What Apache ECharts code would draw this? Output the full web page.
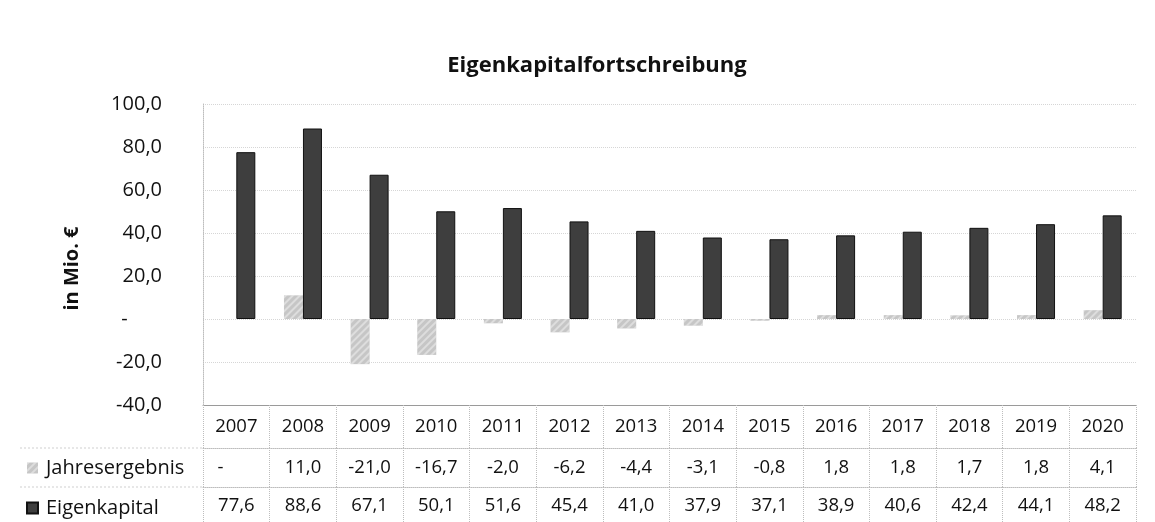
<!DOCTYPE html>
<html><head><meta charset="utf-8">
<script src="https://cdn.jsdelivr.net/npm/echarts@6/dist/echarts.min.js"></script>
<style>html,body{margin:0;padding:0;background:#fff}#c{width:1155px;height:522px}</style>
</head><body><div id="c"></div>
<script>
const years = ['2007','2008','2009','2010','2011','2012','2013','2014','2015','2016','2017','2018','2019','2020'];
const jahresergebnis = [0, 11.0, -21.0, -16.7, -2.0, -6.2, -4.4, -3.1, -0.8, 1.8, 1.8, 1.7, 1.8, 4.1];
const eigenkapital = [77.6, 88.6, 67.1, 50.1, 51.6, 45.4, 41.0, 37.9, 37.1, 38.9, 40.6, 42.4, 44.1, 48.2];
const yTicks = [-40, -20, 0, 20, 40, 60, 80, 100];

// accounting-style: zero shown as a dash followed by digit-wide spaces
function fmt(v){ return v === 0 ? '-\u2007\u2007\u2007' : v.toFixed(1).replace('.', ','); }
const FONT = 'Open Sans';
const TXT = '#111';
const tableLine = {lineStyle:{color:'#bdbdbd', type:'dotted', width:1}};

const chart = echarts.init(document.getElementById('c'));
chart.setOption({
  animation:false,
  textStyle:{fontFamily:FONT},
  title:{text:'Eigenkapitalfortschreibung', left:592, top:50, textAlign:'center',
    textStyle:{fontFamily:FONT, fontSize:22, fontWeight:'bold', color:TXT}},
  legend:{orient:'vertical', left:26, top:457, padding:0, itemWidth:11, itemHeight:11, itemGap:18,
    icon:'rect', selectedMode:false,
    textStyle:{fontFamily:FONT, fontSize:20, color:TXT, lineHeight:22, padding:[0,0,0,3]},
    data:['Jahresergebnis','Eigenkapital']},
  grid:{left:203, right:19, top:104, bottom:117, containLabel:false},
  xAxis:[
    {type:'category', data:years, position:'bottom', offset:0,
     axisLine:{show:true, onZero:false, lineStyle:{color:'#9a9a9a', width:1}},
     axisTick:{show:true, length:43, lineStyle:{color:'#bdbdbd', type:'dotted'}},
     axisLabel:{fontSize:18.5, color:TXT, margin:22, verticalAlign:'middle', fontFamily:FONT},
     splitLine:{show:false}},
    {type:'category', data:jahresergebnis.map(fmt), position:'bottom', offset:43,
     axisLine:{show:true, onZero:false, ...tableLine},
     axisTick:{show:true, length:39, ...tableLine},
     axisLabel:{fontSize:18.5, color:TXT, margin:20, verticalAlign:'middle', fontFamily:FONT}},
    {type:'category', data:eigenkapital.map(fmt), position:'bottom', offset:82,
     axisLine:{show:true, onZero:false, ...tableLine},
     axisTick:{show:true, length:35, ...tableLine},
     axisLabel:{fontSize:18.5, color:TXT, margin:19, verticalAlign:'middle', fontFamily:FONT}}
  ],
  yAxis:{type:'value', min:yTicks[0], max:yTicks[yTicks.length-1], interval:20,
    name:'in Mio. €', nameLocation:'middle', nameGap:121, nameRotate:90,
    nameTextStyle:{fontFamily:FONT, fontSize:20, fontWeight:'bold', color:TXT, padding:[0,28,0,0]},
    axisLine:{show:true, lineStyle:{color:'#bdbdbd', type:'dotted'}},
    axisTick:{show:false},
    axisLabel:{fontSize:20, color:TXT, margin:41, fontFamily:FONT, formatter:(v)=>fmt(Number(v))},
    splitLine:{show:true, lineStyle:{color:'#d6d6d6', type:'dotted'}}},
  graphic:[
    {type:'line', shape:{x1:20, y1:448, x2:203, y2:448}, style:{stroke:'#cfcfcf', lineDash:[2,2]}},
    {type:'line', shape:{x1:20, y1:487, x2:203, y2:487}, style:{stroke:'#cfcfcf', lineDash:[2,2]}}
  ],
  series:[
    {name:'Jahresergebnis', type:'bar', xAxisIndex:0, data:jahresergebnis, barWidth:19, barGap:'0%',
     itemStyle:{color:'#c6c6c6', borderWidth:0,
       decal:{symbol:'rect', symbolSize:1, dashArrayX:[1,0], dashArrayY:[2,3], rotation:-Math.PI/4, color:'rgba(255,255,255,0.4)'}}},
    {name:'Eigenkapital', type:'bar', xAxisIndex:0, data:eigenkapital, barWidth:19, barGap:'0%',
     itemStyle:{color:'#3e3e3e', borderColor:'#111', borderWidth:1}}
  ]
});
</script></body></html>
